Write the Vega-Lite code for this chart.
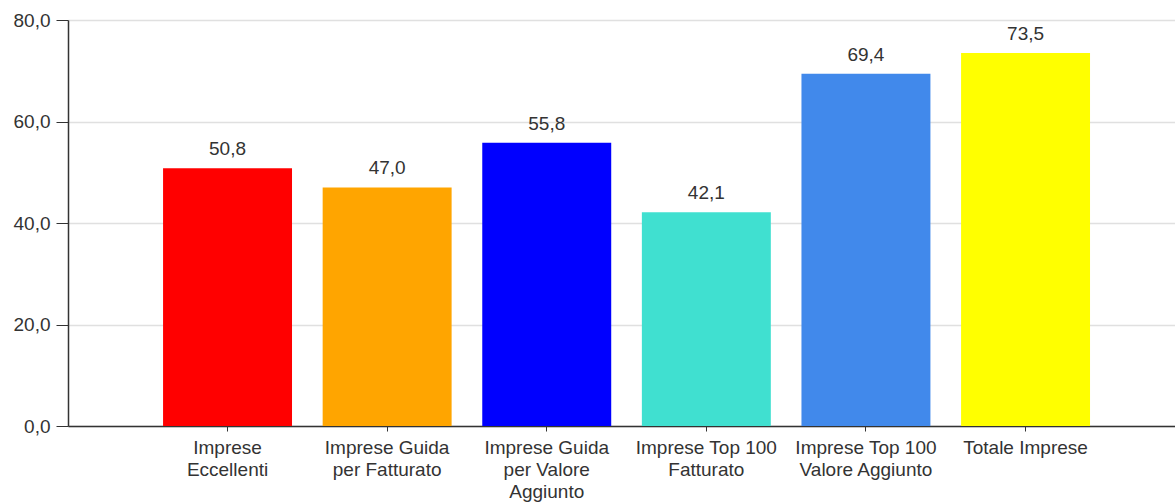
{
  "$schema": "https://vega.github.io/schema/vega-lite/v6.json",
  "width": 1107,
  "height": 406,
  "autosize": {"type": "none"},
  "padding": {"left": 68, "top": 20, "right": 0, "bottom": 78},
  "background": "white",
  "config": {
    "locale": {"number": {"decimal": ",", "thousands": ".", "grouping": [3], "currency": ["€", ""]}},
    "view": {"stroke": null},
    "font": "Liberation Sans",
    "axis": {"labelFont": "Liberation Sans", "labelFontSize": 19, "labelColor": "#333333"}
  },
  "data": {
    "values": [
      {"categoria": "Imprese Eccellenti", "valore": 50.8, "colore": "#FF0000"},
      {"categoria": "Imprese Guida per Fatturato", "valore": 47.0, "colore": "#FFA500"},
      {"categoria": "Imprese Guida per Valore Aggiunto", "valore": 55.8, "colore": "#0000FF"},
      {"categoria": "Imprese Top 100 Fatturato", "valore": 42.1, "colore": "#40E0D0"},
      {"categoria": "Imprese Top 100 Valore Aggiunto", "valore": 69.4, "colore": "#4189EB"},
      {"categoria": "Totale Imprese", "valore": 73.5, "colore": "#FFFF00"}
    ]
  },
  "encoding": {
    "x": {
      "field": "categoria",
      "type": "nominal",
      "sort": null,
      "scale": {"paddingInner": 0.192, "paddingOuter": 0.564, "align": 0.528},
      "axis": {
        "title": null,
        "labelAngle": 0,
        "domainColor": "#333333",
        "domainWidth": 1.5,
        "tickColor": "#333333",
        "tickSize": 5,
        "labelPadding": 7,
        "labelLineHeight": 22,
        "labelBaseline": "top",
        "grid": false,
        "labelExpr": "({'Imprese Eccellenti': ['Imprese', 'Eccellenti'], 'Imprese Guida per Fatturato': ['Imprese Guida', 'per Fatturato'], 'Imprese Guida per Valore Aggiunto': ['Imprese Guida', 'per Valore', 'Aggiunto'], 'Imprese Top 100 Fatturato': ['Imprese Top 100', 'Fatturato'], 'Imprese Top 100 Valore Aggiunto': ['Imprese Top 100', 'Valore Aggiunto'], 'Totale Imprese': ['Totale Imprese']})[datum.label]"
      }
    },
    "y": {
      "field": "valore",
      "type": "quantitative",
      "scale": {"domain": [0, 80], "nice": false},
      "axis": {
        "title": null,
        "values": [0, 20, 40, 60, 80],
        "format": ".1f",
        "domainColor": "#333333",
        "domainWidth": 1.5,
        "tickColor": "#333333",
        "tickSize": 12,
        "labelPadding": 6,
        "gridColor": "#E0E0E0",
        "gridWidth": 1.5
      }
    }
  },
  "layer": [
    {
      "mark": {"type": "bar"},
      "encoding": {"color": {"field": "colore", "type": "nominal", "scale": null, "legend": null}}
    },
    {
      "mark": {"type": "text", "baseline": "alphabetic", "dy": -13, "fontSize": 19, "color": "#333333", "font": "Liberation Sans"},
      "encoding": {"text": {"field": "valore", "type": "quantitative", "format": ".1f"}}
    }
  ]
}
